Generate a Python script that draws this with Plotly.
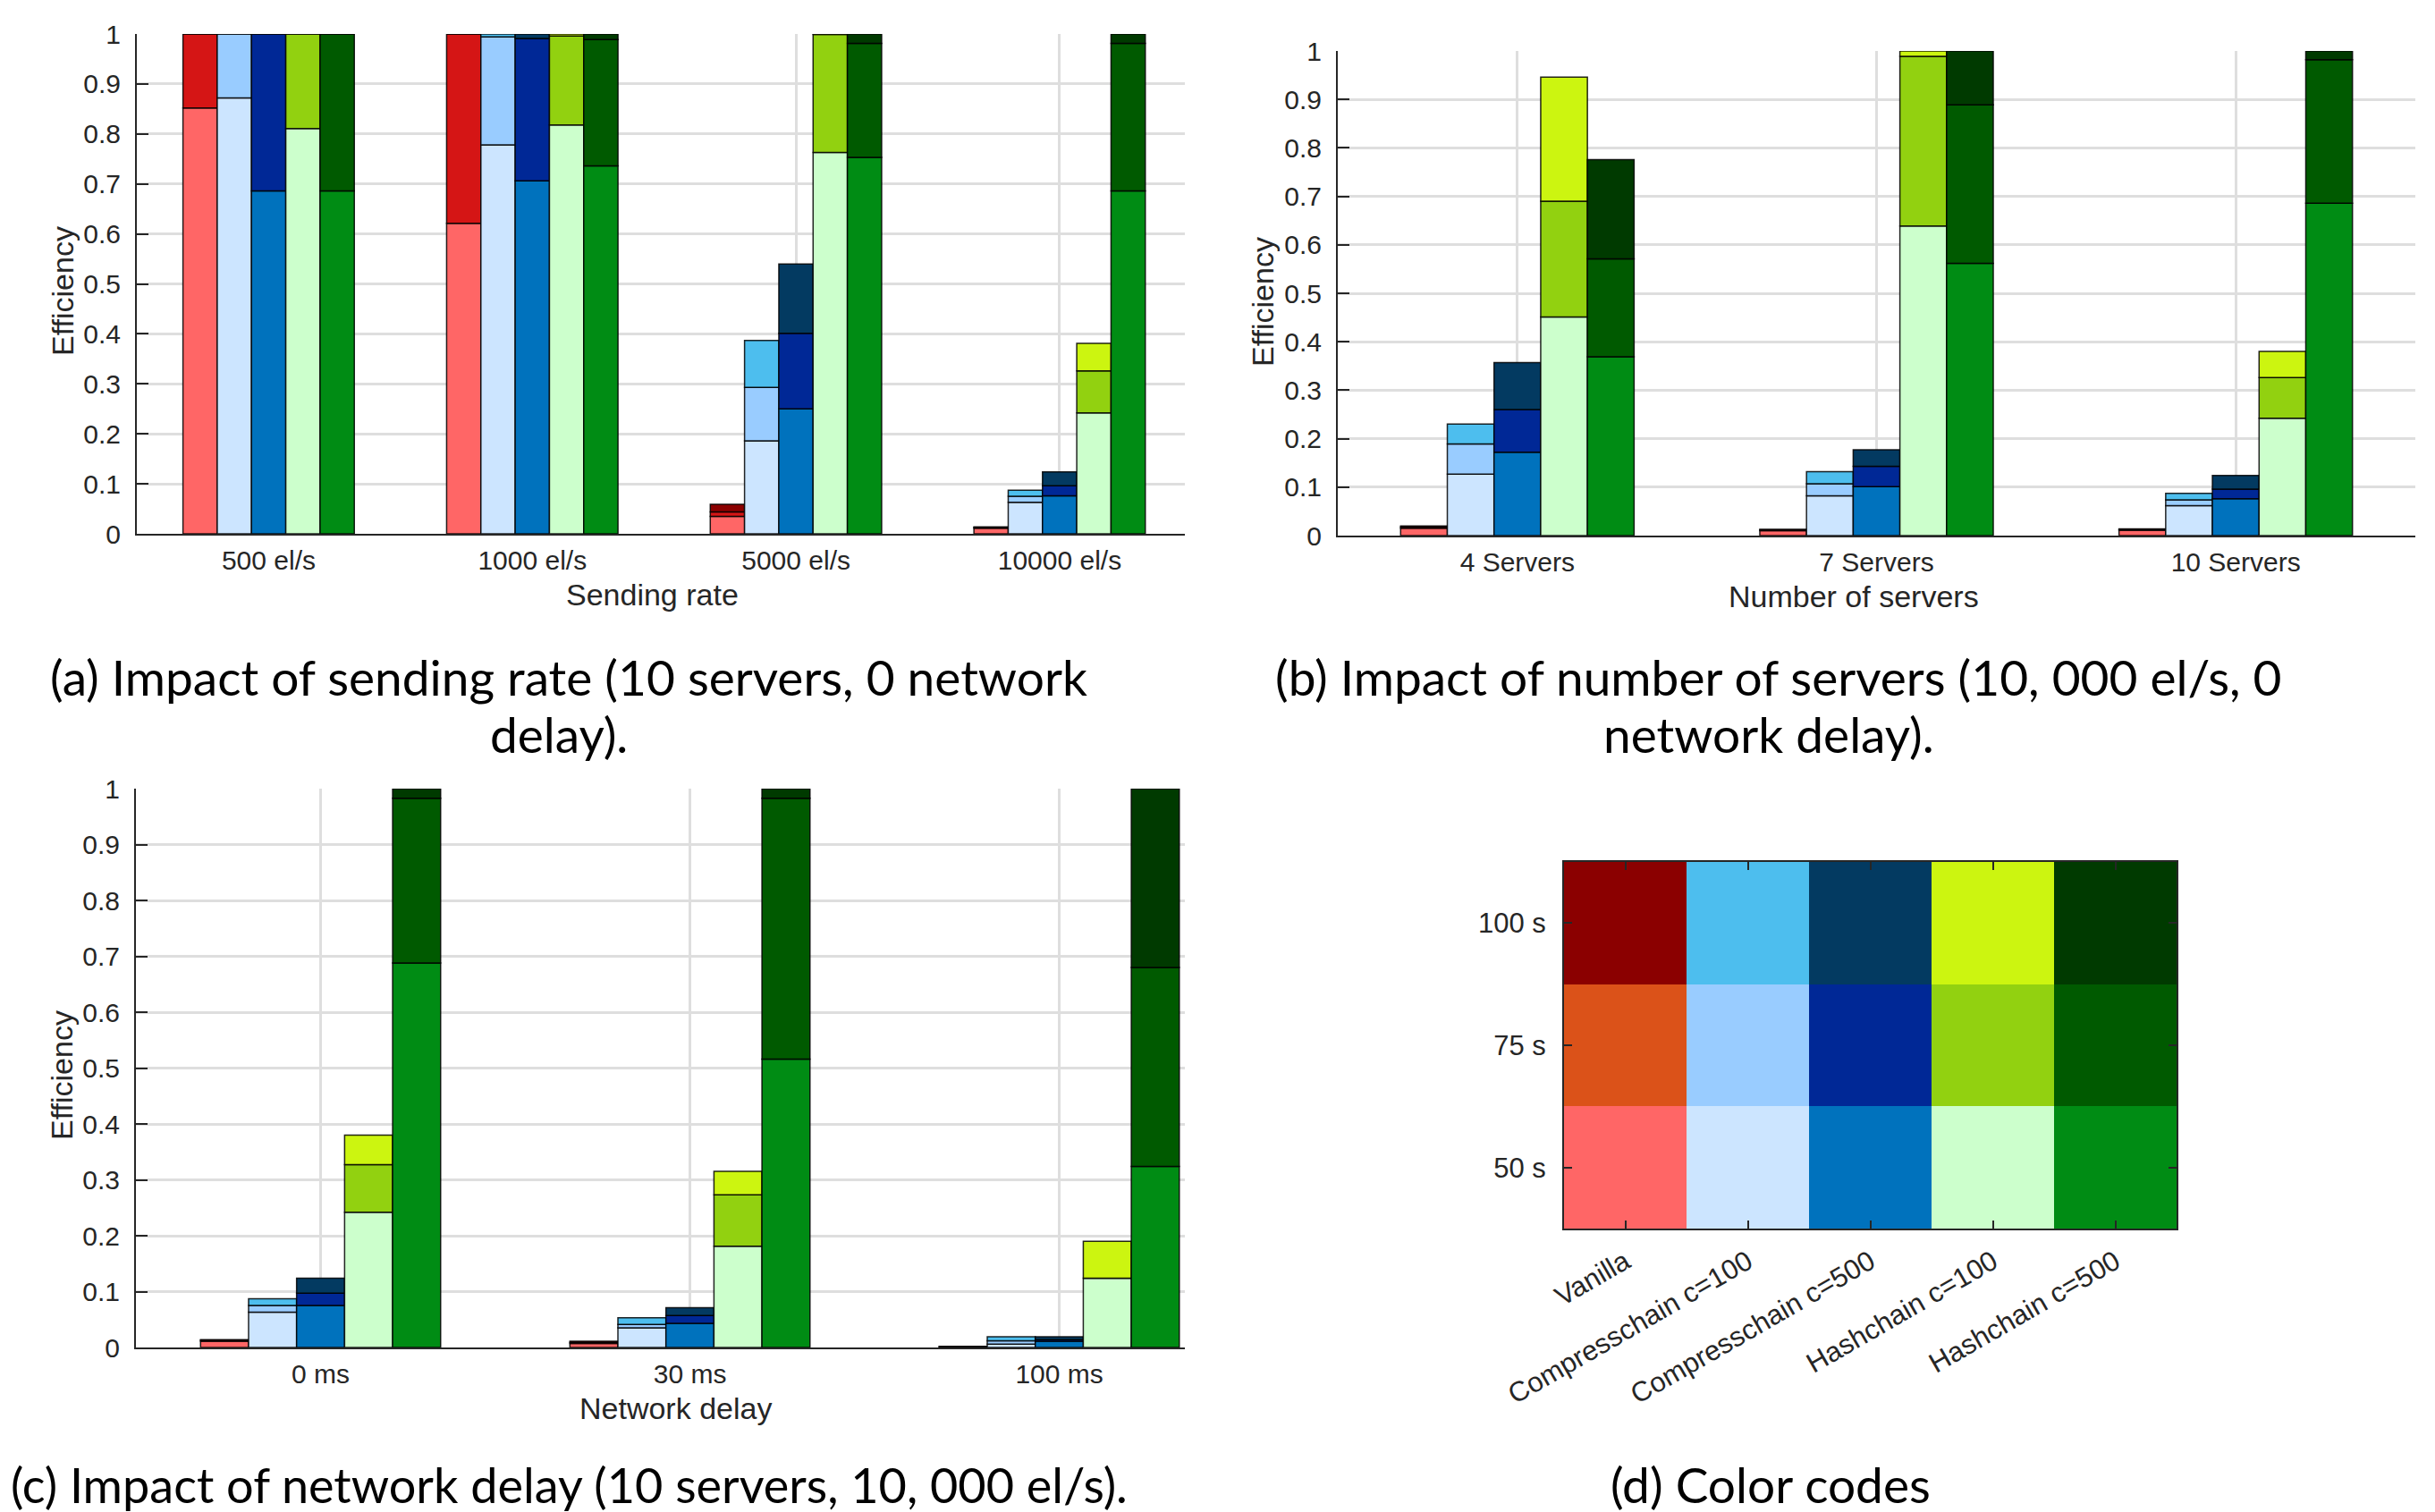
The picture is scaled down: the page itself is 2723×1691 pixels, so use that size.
import plotly.graph_objects as go

W, H = 2723, 1691
OFF = 8  # the page body adds an 8 px margin; positions below are screen pixels

# ---------------- data ----------------
methods = ["Vanilla", "Compresschain c=100", "Compresschain c=500",
           "Hashchain c=100", "Hashchain c=500"]
durations = ["50 s", "75 s", "100 s"]

# (a) sending rate -- cumulative efficiency after 50 s / 75 s / 100 s, [group][method]
rate_labels = ["500 el/s", "1000 el/s", "5000 el/s", "10000 el/s"]
rate_50s = [[0.852, 0.872, 0.686, 0.811, 0.686],
            [0.621, 0.778, 0.706, 0.818, 0.736],
            [0.035, 0.186, 0.250, 0.763, 0.753],
            [0.011, 0.063, 0.076, 0.242, 0.686]]
rate_75s = [[1.000, 1.000, 1.000, 1.000, 1.000],
            [1.000, 0.994, 0.991, 0.996, 0.989],
            [0.044, 0.293, 0.401, 0.999, 0.981],
            [0.013, 0.075, 0.096, 0.326, 0.981]]
rate_100s = [[1.000, 1.000, 1.000, 1.000, 1.000],
             [1.000, 1.000, 1.000, 1.000, 1.000],
             [0.059, 0.387, 0.540, 1.000, 1.000],
             [0.014, 0.087, 0.124, 0.381, 1.000]]

# (b) number of servers
server_labels = ["4 Servers", "7 Servers", "10 Servers"]
servers_50s = [[0.015, 0.127, 0.172, 0.451, 0.369],
               [0.010, 0.082, 0.101, 0.639, 0.562],
               [0.011, 0.062, 0.076, 0.242, 0.686]]
servers_75s = [[0.018, 0.189, 0.260, 0.690, 0.571],
               [0.012, 0.107, 0.143, 0.989, 0.889],
               [0.013, 0.074, 0.096, 0.326, 0.982]]
servers_100s = [[0.020, 0.230, 0.357, 0.946, 0.776],
                [0.013, 0.132, 0.177, 1.000, 1.000],
                [0.014, 0.087, 0.124, 0.380, 1.000]]

# (c) network delay
delay_labels = ["0 ms", "30 ms", "100 ms"]
delay_50s = [[0.011, 0.063, 0.075, 0.242, 0.688],
             [0.007, 0.035, 0.043, 0.181, 0.516],
             [0.001, 0.006, 0.011, 0.124, 0.324]]
delay_75s = [[0.013, 0.075, 0.097, 0.327, 0.983],
             [0.009, 0.041, 0.057, 0.273, 0.983],
             [0.0015, 0.012, 0.014, 0.124, 0.680]]
delay_100s = [[0.014, 0.087, 0.124, 0.380, 1.000],
              [0.011, 0.053, 0.071, 0.315, 1.000],
              [0.002, 0.019, 0.019, 0.190, 1.000]]

y_ticks = [0, 0.1, 0.2, 0.3, 0.4, 0.5, 0.6, 0.7, 0.8, 0.9, 1]
y_tick_text = ["0", "0.1", "0.2", "0.3", "0.4", "0.5", "0.6", "0.7", "0.8", "0.9", "1"]

# colours: [50 s, 75 s, 100 s] per method
bar_colors = [["#FF6666", "#D51515", "#8B0000"],
              ["#CCE5FF", "#99CCFF", "#4DBEEE"],
              ["#0072BD", "#002896", "#033A61"],
              ["#CCFFCC", "#92D110", "#CCF510"],
              ["#008C14", "#005A00", "#003A00"]]
code_colors = [["#FF6666", "#DB5219", "#8B0000"],
               ["#CCE5FF", "#99CCFF", "#4DBEEE"],
               ["#0072BD", "#002896", "#033A61"],
               ["#CCFFCC", "#92D110", "#CCF510"],
               ["#008C14", "#005A00", "#003A00"]]

# ---------------- figure ----------------
BAR_W = 0.13
TICK_FONT = dict(family="Liberation Sans, Arial, sans-serif", size=30, color="#262626")
AXT_FONT = dict(family="Liberation Sans, Arial, sans-serif", size=34, color="#262626")
HM_FONT = dict(family="Liberation Sans, Arial, sans-serif", size=31, color="#262626")
CAP_FONT = dict(family="Lato, sans-serif", size=55, color="#000000")
CAP_FONT_C = dict(family="Lato, sans-serif", size=54, color="#000000")
GRID = "#DEDEDE"
AX = "#262626"

fig = go.Figure()


def add_panel(labels, levels, xname, yname):
    n = len(labels)
    for m in range(len(methods)):
        xs = [g + 1 + (m - 2) * BAR_W for g in range(n)]
        prev = [0.0] * n
        for l in range(3):
            tops = [levels[l][g][m] for g in range(n)]
            fig.add_trace(go.Bar(
                x=xs, y=[t - p for t, p in zip(tops, prev)], base=prev,
                width=BAR_W, xaxis=xname, yaxis=yname,
                marker=dict(color=bar_colors[m][l],
                            line=dict(color="rgba(0,0,0,0.85)", width=1.5)),
                name=f"{methods[m]} {durations[l]}", showlegend=False,
                hoverinfo="skip"))
            prev = tops


add_panel(rate_labels, [rate_50s, rate_75s, rate_100s], "x", "y")
add_panel(server_labels, [servers_50s, servers_75s, servers_100s], "x2", "y2")
add_panel(delay_labels, [delay_50s, delay_75s, delay_100s], "x3", "y3")

# heatmap of colour codes
nlev = len(durations)
ncol = len(methods) * nlev
flat_colors = [code_colors[m][l] for m in range(len(methods)) for l in range(nlev)]
cscale = []
for k, c in enumerate(flat_colors):
    cscale.append([k / ncol, c])
    cscale.append([(k + 1) / ncol, c])
z = [[m * nlev + l for m in range(len(methods))] for l in range(nlev)]
fig.add_trace(go.Heatmap(x=methods, y=durations, z=z, colorscale=cscale,
                         zmin=-0.5, zmax=ncol - 0.5, showscale=False,
                         xaxis="x4", yaxis="y4", hoverinfo="skip"))


def fx(p):
    return (p - OFF) / W


def fy(p):
    return 1 - (p - OFF) / H


def px_x(a, b):
    return [fx(a), fx(b)]


def px_y(top, bottom):
    return [fy(bottom), fy(top)]


def bar_axes(xdom, ydom, xrange, labels):
    xa = dict(domain=xdom, range=xrange, tickvals=list(range(1, len(labels) + 1)),
              ticktext=labels, ticks="", showgrid=True, gridcolor=GRID, gridwidth=2.5,
              showline=True, linecolor=AX, linewidth=2, zeroline=False,
              tickfont=TICK_FONT, ticklabelstandoff=2, fixedrange=True,
              automargin=False)
    ya = dict(domain=ydom, range=[0, 1], tickvals=y_ticks, ticktext=y_tick_text,
              ticks="inside", ticklen=13, tickwidth=2, tickcolor=AX,
              showgrid=True, gridcolor=GRID, gridwidth=2.5,
              showline=True, linecolor=AX, linewidth=2, zeroline=False,
              tickfont=TICK_FONT, ticklabelstandoff=10, fixedrange=True,
              automargin=False)
    return xa, ya


xa1, ya1 = bar_axes(px_x(153, 1325), px_y(38, 597), [0.5, 4.475], rate_labels)
xa2, ya2 = bar_axes(px_x(1496, 2701), px_y(57, 599), [0.5, 3.5], server_labels)
xa3, ya3 = bar_axes(px_x(152, 1325), px_y(882, 1507), [0.5, 3.34], delay_labels)
ya2["anchor"] = "x2"; xa2["anchor"] = "y2"
ya3["anchor"] = "x3"; xa3["anchor"] = "y3"

xa4 = dict(domain=px_x(1749, 2434), anchor="y4", type="category", tickangle=-30,
           ticks="inside", ticklen=9, tickwidth=2, tickcolor=AX, mirror="ticks",
           showline=True, linecolor=AX, linewidth=2, showgrid=False, zeroline=False,
           tickfont=HM_FONT, ticklabelstandoff=5, fixedrange=True, automargin=False)
ya4 = dict(domain=px_y(964, 1374), anchor="x4", type="category",
           ticks="inside", ticklen=9, tickwidth=2, tickcolor=AX, mirror="ticks",
           showline=True, linecolor=AX, linewidth=2, showgrid=False, zeroline=False,
           tickfont=HM_FONT, ticklabelstandoff=12, fixedrange=True, automargin=False)

annotations = []
for (x, y) in [(70, 326), (1412, 337), (69, 1203)]:
    annotations.append(dict(text="Efficiency", x=fx(x), y=fy(y), xref="paper",
                            yref="paper", showarrow=False, textangle=-90,
                            font=AXT_FONT, xanchor="center", yanchor="middle"))
for (t, x, y) in [("Sending rate", 729, 665), ("Number of servers", 2073, 667),
                  ("Network delay", 755, 1575)]:
    annotations.append(dict(text=t, x=fx(x), y=fy(y), xref="paper", yref="paper",
                            showarrow=False, font=AXT_FONT,
                            xanchor="center", yanchor="middle"))

caption_lines = [
    ("(a) Impact of sending rate (10 servers, 0 network", 636, 757, "center", CAP_FONT),
    ("delay).", 625, 821, "center", CAP_FONT),
    ("(b) Impact of number of servers (10, 000 el/s, 0", 1989, 757, "center", CAP_FONT),
    ("network delay).", 1978, 821, "center", CAP_FONT),
    ("(c) Impact of network delay (10 servers, 10, 000 el/s).", 10, 1660, "left", CAP_FONT_C),
    ("(d) Color codes", 1980, 1660, "center", CAP_FONT),
]
for t, x, y, anc, f in caption_lines:
    annotations.append(dict(text=t, x=fx(x), y=fy(y), xref="paper", yref="paper",
                            showarrow=False, font=f, xanchor=anc,
                            yanchor="middle"))

fig.update_layout(
    width=W, height=H, margin=dict(l=0, r=0, t=0, b=0, autoexpand=False),
    paper_bgcolor="white", plot_bgcolor="white",
    barmode="overlay", showlegend=False,
    xaxis=xa1, yaxis=ya1, xaxis2=xa2, yaxis2=ya2,
    xaxis3=xa3, yaxis3=ya3, xaxis4=xa4, yaxis4=ya4,
    annotations=annotations,
)

fig.write_html("out.html")
